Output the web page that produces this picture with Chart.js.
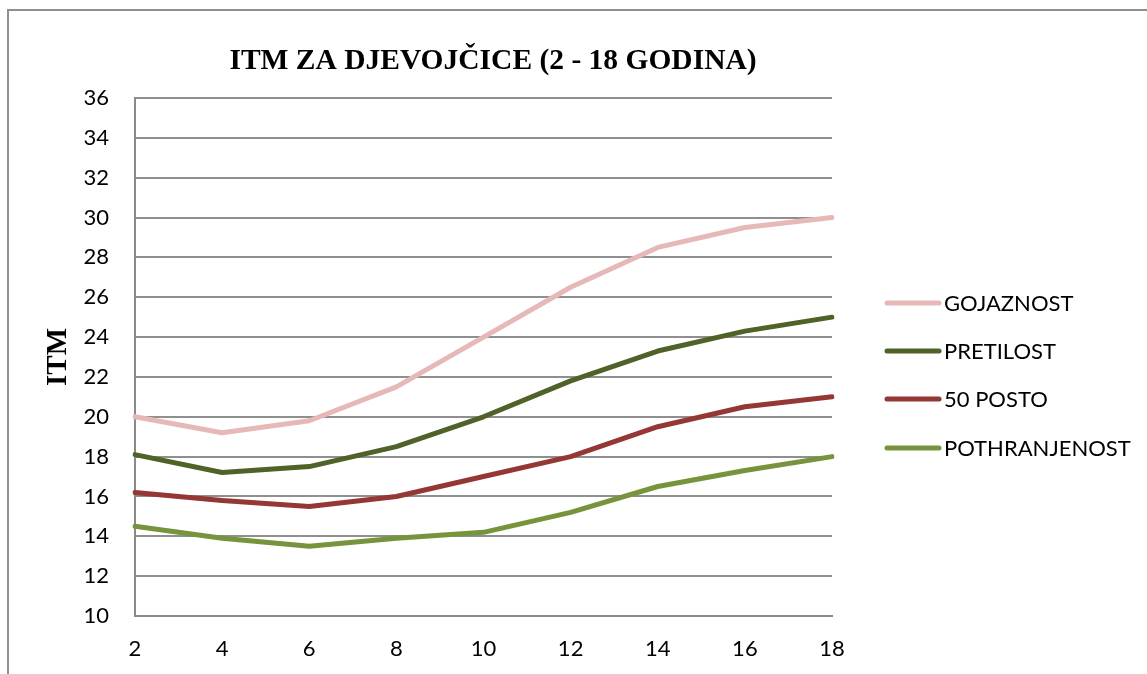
<!DOCTYPE html>
<html>
<head>
<meta charset="utf-8">
<script src="https://cdn.jsdelivr.net/npm/chart.js@4.4.1/dist/chart.umd.min.js"></script>
<style>
  html, body { margin: 0; padding: 0; background: #fff; overflow: hidden; }
  #wrap { position: relative; width: 1147px; height: 674px; }
  #frame { position: absolute; left: 7px; top: 9px; width: 1200px; height: 700px; border: 2px solid #8f8f8f; box-sizing: border-box; }
  canvas { position: absolute; left: 0; top: 0; }
</style>
</head>
<body>
<div id="wrap">
  <div id="frame"></div>
  <canvas id="c" width="1147" height="674"></canvas>
</div>
<script>
const chartTitle = 'ITM ZA DJEVOJČICE (2 - 18 GODINA)';
const yAxisTitle = 'ITM';
const ages = ['2', '4', '6', '8', '10', '12', '14', '16', '18'];
const seriesNames = ['GOJAZNOST', 'PRETILOST', '50 POSTO', 'POTHRANJENOST'];
const gojaznost = [20, 19.2, 19.8, 21.5, 24, 26.5, 28.5, 29.5, 30];
const pretilost = [18.1, 17.2, 17.5, 18.5, 20, 21.8, 23.3, 24.3, 25];
const posto50 = [16.2, 15.8, 15.5, 16, 17, 18, 19.5, 20.5, 21];
const pothranjenost = [14.5, 13.9, 13.5, 13.9, 14.2, 15.2, 16.5, 17.3, 18];
const colors = ['#E6B9B8', '#4F6228', '#953735', '#77933C'];
const yMin = 10, yMax = 36, yStep = 2;

const tickFont = { family: 'Lato', size: 22 };

const overlay = {
  id: 'overlay',
  afterDraw(chart) {
    const ctx = chart.ctx;
    ctx.save();
    // title
    ctx.fillStyle = '#000';
    ctx.font = 'bold 29.5px "Liberation Serif", "Times New Roman", serif';
    ctx.textAlign = 'center';
    ctx.textBaseline = 'middle';
    ctx.fillText(chartTitle, 493, 61);
    // legend
    ctx.font = '22px Lato';
    ctx.textAlign = 'left';
    const rows = [303, 351, 399, 448];
    chart.data.datasets.forEach((ds, i) => {
      const y = rows[i];
      ctx.strokeStyle = ds.borderColor;
      ctx.lineWidth = 5;
      ctx.lineCap = 'round';
      ctx.beginPath();
      ctx.moveTo(887, y);
      ctx.lineTo(939, y);
      ctx.stroke();
      ctx.fillStyle = '#000';
      ctx.fillText(ds.label, 944, y + 1);
    });
    ctx.restore();
  }
};

const series = [gojaznost, pretilost, posto50, pothranjenost];

new Chart(document.getElementById('c'), {
  type: 'line',
  data: {
    labels: ages,
    datasets: series.map((d, i) => ({
      label: seriesNames[i],
      data: d,
      borderColor: colors[i],
      backgroundColor: colors[i],
      borderWidth: 5,
      pointRadius: 0,
      tension: 0,
      borderCapStyle: 'round',
      borderJoinStyle: 'round',
      fill: false
    }))
  },
  options: {
    responsive: false,
    animation: false,
    devicePixelRatio: 1,
    layout: { padding: { top: 98, right: 315, left: 0, bottom: 0 } },
    plugins: { legend: { display: false }, title: { display: false }, tooltip: { enabled: false } },
    scales: {
      x: {
        type: 'category',
        offset: false,
        grid: { display: false, drawTicks: false },
        border: { display: true, color: '#8a8a8a', width: 2 },
        ticks: { font: tickFont, color: '#000', padding: 20, maxRotation: 0, autoSkip: false },
        afterFit(s) { s.height = 58; }
      },
      y: {
        min: yMin, max: yMax,
        grid: { color: '#8f8f8f', lineWidth: 2, drawTicks: false },
        border: { display: true, color: '#8a8a8a', width: 2 },
        ticks: { stepSize: yStep, font: tickFont, color: '#000', padding: 26 },
        title: {
          display: true, text: yAxisTitle, color: '#000',
          font: { family: '"Liberation Serif", "Times New Roman", serif', size: 29, weight: 'bold' },
          padding: { top: 41, bottom: 0 }
        },
        afterFit(s) { s.width = 135; }
      }
    }
  },
  plugins: [overlay]
});
</script>
</body>
</html>
